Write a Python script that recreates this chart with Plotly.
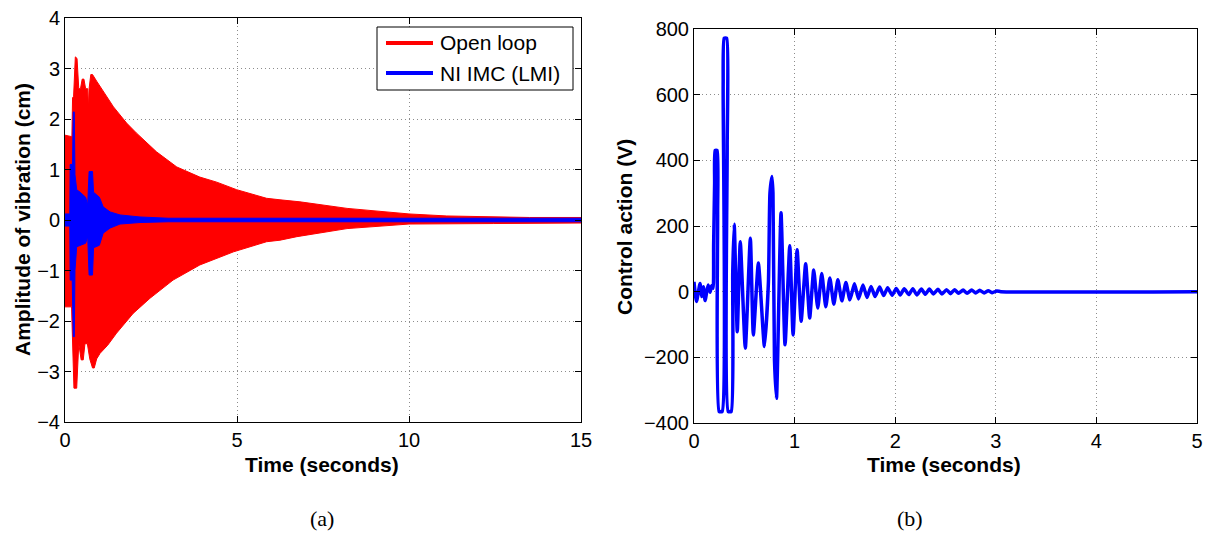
import plotly.graph_objects as go

W, H = 1216, 534

# ---- (a) Amplitude of vibration: open loop vs NI IMC (LMI) ----
# Open-loop response: the oscillation is too dense to resolve, so it is drawn
# as the band between its upper and lower peak envelopes (cm).
ol_up_t = [0.0, 0.2, 0.22, 0.25, 0.3, 0.35, 0.4, 0.45, 0.5, 0.55, 0.6, 0.66, 0.68,
           0.7, 0.75, 0.8, 0.92, 1.02, 1.21, 1.41, 1.79, 2.08, 2.66, 3.25, 3.92,
           4.41, 4.99, 5.86, 6.25, 6.83, 8.2, 10.0, 11.1, 12.45, 13.5, 15.0]
ol_up = [1.68, 1.65, 2.42, 2.45, 3.23, 3.2, 2.6, 2.6, 2.79, 2.79, 2.6, 2.6, 2.2,
         2.6, 2.88, 2.88, 2.75, 2.65, 2.45, 2.24, 1.92, 1.72, 1.35, 1.05, 0.85,
         0.75, 0.6, 0.43, 0.4, 0.36, 0.23, 0.12, 0.08, 0.06, 0.05, 0.05]
ol_lo_t = [0.0, 0.19, 0.22, 0.26, 0.34, 0.4, 0.47, 0.53, 0.58, 0.65, 0.72, 0.8,
           0.85, 0.92, 1.02, 1.24, 1.5, 1.98, 2.47, 3.14, 3.92, 4.9, 5.86, 6.25,
           6.74, 8.2, 10.0, 12.45, 15.0]
ol_lo = [-1.72, -1.72, -2.5, -3.33, -3.33, -2.45, -2.77, -2.77, -2.45, -2.45,
         -2.75, -2.93, -2.93, -2.75, -2.64, -2.48, -2.24, -1.85, -1.55, -1.19,
         -0.89, -0.63, -0.43, -0.4, -0.33, -0.17, -0.08, -0.07, -0.06]

# NI IMC (LMI) closed-loop response envelope (cm)
imc_t = [0.0, 0.14, 0.15, 0.21, 0.22, 0.24, 0.27, 0.29, 0.34, 0.44, 0.6, 0.66,
         0.7, 0.8, 0.83, 1.0, 1.11, 1.31, 1.6, 2.18, 3.0, 15.0]
imc_up = [0.12, 0.12, 1.1, 1.1, 1.1, 2.14, 2.14, 0.9, 0.6, 0.55, 0.45, 0.3,
          0.96, 0.96, 0.55, 0.45, 0.26, 0.16, 0.1, 0.06, 0.035, 0.035]
imc_lo = [-0.12, -0.12, -1.19, -1.19, -1.2, -2.31, -2.31, -1.0, -0.53, -0.5,
          -0.46, -0.33, -1.09, -1.09, -0.55, -0.5, -0.26, -0.16, -0.08, -0.05,
          -0.035, -0.035]

# ---- (b) Control action (V): successive peaks of the control signal ----
ca_t = [0.0, 0.025, 0.06, 0.076, 0.093, 0.11, 0.14, 0.16, 0.175, 0.19, 0.195,
        0.205, 0.21, 0.23, 0.235, 0.25, 0.28, 0.29, 0.30, 0.325, 0.33, 0.34,
        0.37, 0.385, 0.40, 0.43, 0.46, 0.51, 0.56, 0.59, 0.64, 0.70, 0.74,
        0.755, 0.775, 0.785, 0.80, 0.82, 0.865, 0.905, 0.952, 0.985, 1.025,
        1.065, 1.11, 1.15, 1.19, 1.23, 1.27, 1.31, 1.35, 1.39, 1.43, 1.47,
        1.51, 1.55, 1.595, 1.635, 1.68, 1.72, 1.76, 1.80, 1.845, 1.885, 1.925,
        1.97, 2.01, 2.05, 2.09, 2.135, 2.175, 2.215, 2.26, 2.30, 2.34, 2.38,
        2.425, 2.465, 2.51, 2.55, 2.59, 2.63, 2.675, 2.715, 2.76, 2.80, 2.84,
        2.885, 2.925, 2.965, 3.01, 3.05, 5.0]
ca_v = [30, -30, 25, -15, 15, -27, 20, -2, 18, 10, 140,
        330, 430, 430, 240, -365, -365, 630, 772, 772, 442, -365,
        -365, 60, 205, -122, 152, -172, 163, -132, 87, -167, 30,
        300, 351, 300, -208, -325, 240, -162, 140, -132, 128,
        -90, 85, -80, 66, -50, 55, -46, 42, -38, 36, -28,
        28, -25, 24, -22, 20, -18, 16, -15, 14, -12, 12,
        -11, 10, -10, 9, -9, 9, -10, 8, -8, 8, -7,
        7, -7, 6, -6, 6, -5, 5, -5, 5, -4, 4,
        -4, 3, -3, 2, 0, 0]

RED = "#ff0000"
BLUE = "#0000ff"
FONT = "Liberation Sans"


def px(x):
    return x / W


def py(y):
    return 1 - y / H


fig = go.Figure()

fig.add_trace(go.Scatter(
    x=ol_up_t + ol_lo_t[::-1], y=ol_up + ol_lo[::-1],
    fill="toself", fillcolor=RED, mode="lines",
    line=dict(color=RED, width=1), showlegend=False,
    xaxis="x", yaxis="y", name="Open loop"))

fig.add_trace(go.Scatter(
    x=imc_t + imc_t[::-1], y=imc_up + imc_lo[::-1],
    fill="toself", fillcolor=BLUE, mode="lines",
    line=dict(color=BLUE, width=1), showlegend=False,
    xaxis="x", yaxis="y", name="NI IMC (LMI)"))

fig.add_trace(go.Scatter(
    x=ca_t, y=ca_v, mode="lines",
    line=dict(color=BLUE, width=3.5, shape="spline", smoothing=0.5),
    showlegend=False, xaxis="x2", yaxis="y2", name="Control action"))

axis_style = dict(
    showline=True, linecolor="black", linewidth=1, mirror="allticks",
    ticks="inside", ticklen=6, tickcolor="black", tickwidth=1,
    showgrid=True, gridcolor="#8c8c8c", gridwidth=1, griddash="1px,3px",
    zeroline=False, automargin=False,
    tickfont=dict(family=FONT, size=20, color="black"),
)

fig.update_layout(
    width=W, height=H, autosize=False,
    margin=dict(l=0, r=0, t=0, b=0),
    paper_bgcolor="white", plot_bgcolor="white",
    showlegend=False,
    xaxis=dict(domain=[px(65), px(581)], range=[0, 15],
               tickvals=[0, 5, 10, 15], anchor="y", **axis_style),
    yaxis=dict(domain=[py(422), py(18)], range=[-4, 4],
               tickvals=[-4, -3, -2, -1, 0, 1, 2, 3, 4], anchor="x", **axis_style),
    xaxis2=dict(domain=[px(694), px(1197)], range=[0, 5],
                tickvals=[0, 1, 2, 3, 4, 5], anchor="y2", **axis_style),
    yaxis2=dict(domain=[py(423), py(29)], range=[-400, 800],
                tickvals=[-400, -200, 0, 200, 400, 600, 800], anchor="x2", **axis_style),
)

# Legend box for panel (a)
fig.add_shape(type="rect", xref="paper", yref="paper",
              x0=px(377), x1=px(573), y0=py(90), y1=py(27),
              line=dict(color="black", width=1), fillcolor="white", layer="above")
legend_items = [("Open loop", RED, 43), ("NI IMC (LMI)", BLUE, 73)]
for label, color, yy in legend_items:
    fig.add_shape(type="line", xref="paper", yref="paper",
                  x0=px(386), x1=px(433), y0=py(yy), y1=py(yy),
                  line=dict(color=color, width=4), layer="above")
    fig.add_annotation(text=label, xref="paper", yref="paper",
                       x=px(438), y=py(yy), xanchor="left", yanchor="middle",
                       showarrow=False,
                       font=dict(family=FONT, size=21, color="black"))

title_font = dict(family=FONT, size=21, color="black", weight="bold")
titles = [
    ("Time (seconds)", 322, 464, 0),
    ("Time (seconds)", 944, 464, 0),
    ("Amplitude of vibration (cm)", 22, 220, -90),
    ("Control action (V)", 624, 227, -90),
]
for text, xx, yy, ang in titles:
    fig.add_annotation(text=text, xref="paper", yref="paper",
                       x=px(xx), y=py(yy), xanchor="center", yanchor="middle",
                       textangle=ang, showarrow=False, font=title_font)

caption_font = dict(family="Liberation Serif", size=22, color="black")
for text, xx in [("(a)", 322), ("(b)", 910)]:
    fig.add_annotation(text=text, xref="paper", yref="paper",
                       x=px(xx), y=py(518), xanchor="center", yanchor="middle",
                       showarrow=False, font=caption_font)

fig.write_html("out.html")
